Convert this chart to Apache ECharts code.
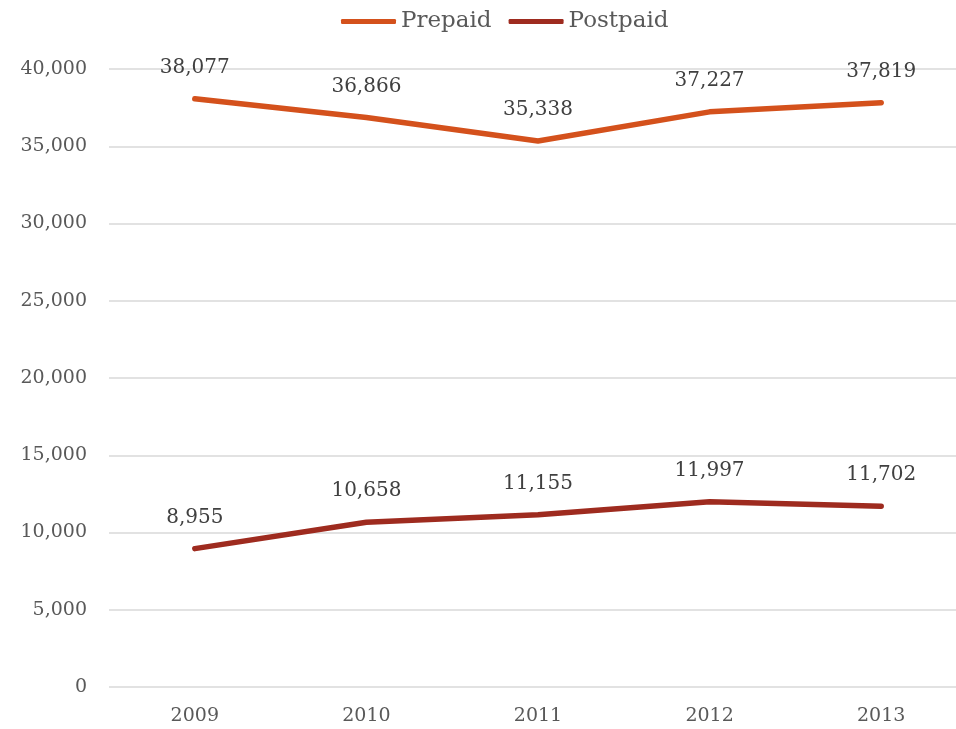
<!DOCTYPE html>
<html>
<head>
<meta charset="utf-8">
<script src="https://cdn.jsdelivr.net/npm/echarts@6/dist/echarts.min.js"></script>
<style>
  html, body { margin: 0; padding: 0; background: #fff; overflow: hidden; }
  /* plot area runs past the right edge in the reference, so the canvas is a bit wider than the window */
  #chart { width: 967px; height: 729px; }
</style>
</head>
<body>
<div id="chart"></div>
<script>
var years = ['2009', '2010', '2011', '2012', '2013']
var prepaid = [38077, 36866, 35338, 37227, 37819]
var postpaid = [8955, 10658, 11155, 11997, 11702]

var FONT = '"DejaVu Serif", serif'

function fmt(v) {
    return v.toLocaleString('en-US')
}

function makeSeries(name, data, color) {
    return {
        name: name,
        type: 'line',
        data: data,
        symbol: 'circle',
        symbolSize: 0.1,
        showSymbol: true,
        lineStyle: { width: 5.5, color: color, cap: 'round' },
        itemStyle: { color: color },
        label: {
            show: true,
            position: 'top',
            distance: 21,
            fontFamily: FONT,
            fontSize: 20,
            color: '#404040',
            formatter: function (p) { return fmt(p.value) }
        }
    }
}

var chart = echarts.init(document.getElementById('chart'))
chart.setOption({
    animation: false,
    legend: {
        top: 5,
        left: 336,
        itemWidth: 55,
        itemHeight: 5,
        itemGap: 17,
        icon: 'roundRect',
        textStyle: { fontFamily: FONT, fontSize: 23, color: '#595959' },
        data: ['Prepaid', 'Postpaid']
    },
    grid: {
        left: 109,
        top: 69,
        right: 0,
        bottom: 42,
        containLabel: false
    },
    xAxis: {
        type: 'category',
        data: years,
        boundaryGap: true,
        axisLine: { show: false },
        axisTick: { show: false },
        axisLabel: { margin: 20, fontFamily: FONT, fontSize: 19, color: '#595959' }
    },
    yAxis: {
        type: 'value',
        min: 0,
        max: 40000,
        interval: 5000,
        axisLine: { show: false },
        axisTick: { show: false },
        axisLabel: {
            margin: 22,
            fontFamily: FONT,
            fontSize: 19,
            color: '#595959',
            formatter: function (v) { return fmt(v) }
        },
        splitLine: { lineStyle: { color: '#d9d9d9', width: 1.5 } }
    },
    series: [
        makeSeries('Prepaid', prepaid, '#d4511c'),
        makeSeries('Postpaid', postpaid, '#9e2b1f')
    ]
})
</script>
</body>
</html>
